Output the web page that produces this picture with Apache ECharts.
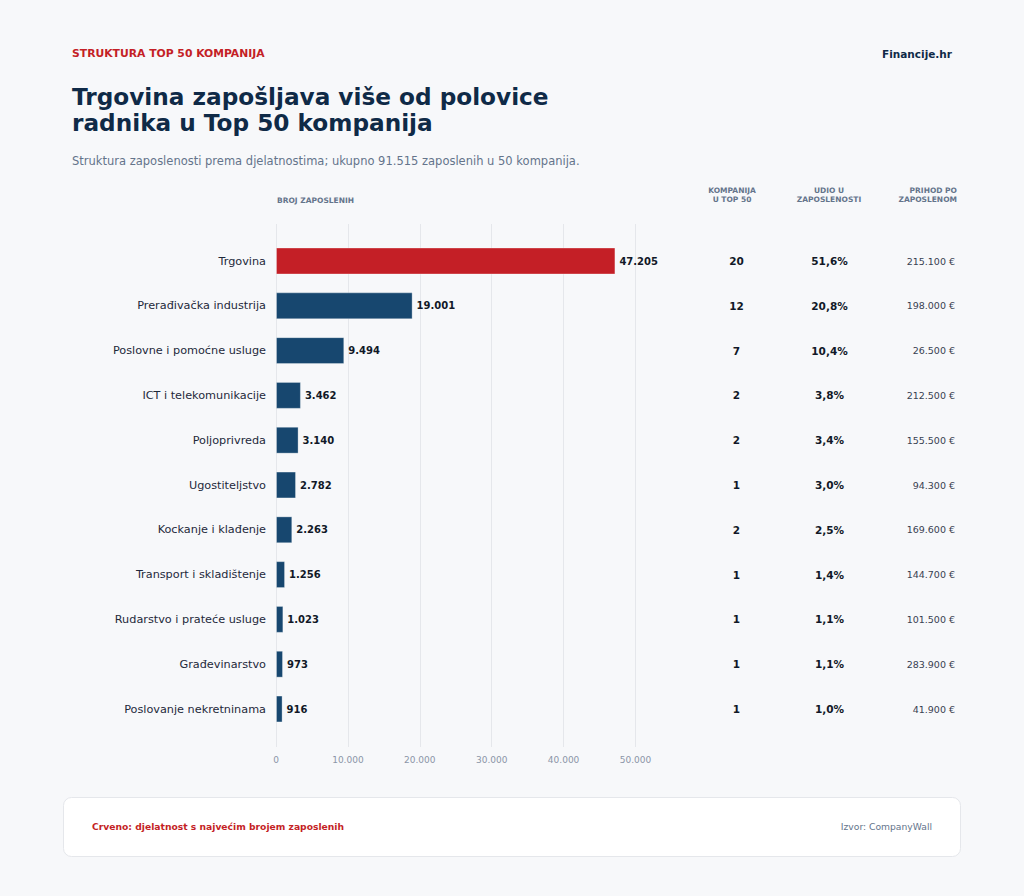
<!DOCTYPE html>
<html lang="hr">
<head>
    <meta charset="UTF-8">
    <title>Struktura Top 50 kompanija</title>
    <style>
        html, body { margin: 0; padding: 0; background: #f7f8fa; }
        #chart { width: 1024px; height: 896px; }
    </style>
</head>
<body>
    <div id="chart"></div>
    <script src="https://cdn.jsdelivr.net/npm/echarts@6/dist/echarts.min.js"></script>
    <script>
        // podaci
        const categories = ['Trgovina', 'Prerađivačka industrija', 'Poslovne i pomoćne usluge', 'ICT i telekomunikacije',
            'Poljoprivreda', 'Ugostiteljstvo', 'Kockanje i klađenje', 'Transport i skladištenje',
            'Rudarstvo i prateće usluge', 'Građevinarstvo', 'Poslovanje nekretninama'];
        const employees = [47205, 19001, 9494, 3462, 3140, 2782, 2263, 1256, 1023, 973, 916];
        const companies = [20, 12, 7, 2, 2, 1, 2, 1, 1, 1, 1];
        const shares = [51.6, 20.8, 10.4, 3.8, 3.4, 3.0, 2.5, 1.4, 1.1, 1.1, 1.0];
        const revenuePerEmployee = [215100, 198000, 26500, 212500, 155500, 94300, 169600, 144700, 101500, 283900, 41900];
        const xTicks = [0, 10000, 20000, 30000, 40000, 50000];

        const FONT = 'DejaVu Sans';
        const RED = '#c41f26';
        const NAVY = '#17476f';

        // hrvatski format brojeva
        function fmt(n) {
            return String(n).replace(/\B(?=(\d{3})+(?!\d))/g, '.');
        }
        function pct(v) {
            return v.toFixed(1).replace('.', ',') + '%';
        }

        const maxIdx = employees.indexOf(Math.max(...employees));

        const chart = echarts.init(document.getElementById('chart'), null, { renderer: 'svg' });

        const plotLeft = 276;
        const plotRight = 1024 - 635.5;

        function tableAxis(values, offset, align, bold, color, fontSize) {
            return {
                type: 'category',
                gridIndex: 0,
                position: 'right',
                offset: offset,
                inverse: true,
                data: values,
                axisLine: { show: false },
                axisTick: { show: false },
                splitLine: { show: false },
                axisLabel: {
                    margin: 0,
                    align: align,
                    fontFamily: FONT,
                    fontSize: fontSize,
                    fontWeight: bold ? 'bold' : 'normal',
                    color: color
                }
            };
        }

        const option = {
            backgroundColor: '#f7f8fa',
            textStyle: { fontFamily: FONT },
            title: [
                {
                    text: 'STRUKTURA TOP 50 KOMPANIJA',
                    left: 72, top: 48, padding: 0,
                    textStyle: { fontFamily: FONT, fontSize: 10.8, fontWeight: 'bold', color: RED }
                },
                {
                    text: 'Trgovina zapošljava više od polovice\nradnika u Top 50 kompanija',
                    left: 72, top: 83, padding: 0,
                    textStyle: { fontFamily: FONT, fontSize: 23.2, fontWeight: 'bold', color: '#0f2a47', lineHeight: 26 }
                },
                {
                    text: 'Struktura zaposlenosti prema djelatnostima; ukupno 91.515 zaposlenih u 50 kompanija.',
                    left: 72, top: 155, padding: 0,
                    textStyle: { fontFamily: FONT, fontSize: 11.5, fontWeight: 'normal', color: '#64748b' }
                },
                {
                    text: 'Financije.hr',
                    right: 72, top: 48.5, padding: 0,
                    textStyle: { fontFamily: FONT, fontSize: 10.5, fontWeight: 'bold', color: '#0f2a47' }
                }
            ],
            graphic: [
                {
                    type: 'text', left: 277, top: 196, silent: true,
                    style: { text: 'BROJ ZAPOSLENIH', fontFamily: FONT, fontSize: 7.5, fontWeight: 'bold', fill: '#64748b' }
                },
                {
                    type: 'text', x: 732, y: 186, silent: true,
                    style: { text: 'KOMPANIJA\nU TOP 50', align: 'center', fontFamily: FONT, fontSize: 7.5, fontWeight: 'bold', fill: '#64748b', lineHeight: 9 }
                },
                {
                    type: 'text', x: 829, y: 186, silent: true,
                    style: { text: 'UDIO U\nZAPOSLENOSTI', align: 'center', fontFamily: FONT, fontSize: 7.5, fontWeight: 'bold', fill: '#64748b', lineHeight: 9 }
                },
                {
                    type: 'text', x: 957, y: 186, silent: true,
                    style: { text: 'PRIHOD PO\nZAPOSLENOM', align: 'right', fontFamily: FONT, fontSize: 7.5, fontWeight: 'bold', fill: '#64748b', lineHeight: 9 }
                },
                {
                    type: 'rect', silent: true, z: -1,
                    shape: { x: 63.5, y: 797.5, width: 897, height: 59, r: 8 },
                    style: { fill: '#ffffff', stroke: '#e5e7eb', lineWidth: 1 }
                },
                {
                    type: 'text', x: 92, y: 826, silent: true,
                    style: { text: 'Crveno: djelatnost s najvećim brojem zaposlenih', verticalAlign: 'middle', fontFamily: FONT, fontSize: 9.2, fontWeight: 'bold', fill: RED }
                },
                {
                    type: 'text', x: 932, y: 826, silent: true,
                    style: { text: 'Izvor: CompanyWall', align: 'right', verticalAlign: 'middle', fontFamily: FONT, fontSize: 9.2, fill: '#64748b' }
                }
            ],
            grid: [
                // trake
                { left: plotLeft, right: plotRight, top: 238.6, bottom: 896 - 731.4 },
                // mreža i oznake osi
                { left: plotLeft, right: plotRight, top: 224, bottom: 896 - 747 }
            ],
            xAxis: [
                {
                    type: 'value', gridIndex: 0, min: 0, max: 50000, interval: 10000,
                    show: false
                },
                {
                    type: 'value', gridIndex: 1, min: xTicks[0], max: xTicks[xTicks.length - 1], interval: 10000,
                    axisLine: { show: false },
                    axisTick: { show: false },
                    splitLine: { lineStyle: { color: '#e5e7eb', width: 1 } },
                    axisLabel: {
                        margin: 8,
                        fontFamily: FONT,
                        fontSize: 9,
                        color: '#8b95a7',
                        formatter: v => fmt(v)
                    }
                }
            ],
            yAxis: [
                {
                    type: 'category', gridIndex: 0, inverse: true, data: categories,
                    axisLine: { show: false },
                    axisTick: { show: false },
                    axisLabel: { margin: 10, fontFamily: FONT, fontSize: 11.25, color: '#1e293b' }
                },
                tableAxis(companies.map(String), 101, 'center', true, '#111827', 10.5),
                tableAxis(shares.map(pct), 194, 'center', true, '#111827', 10.5),
                tableAxis(revenuePerEmployee.map(v => fmt(v) + ' €'), 319.5, 'right', false, '#374151', 9.5),
                {
                    type: 'value', gridIndex: 1, show: false, min: 0, max: 1
                }
            ],
            series: [
                {
                    type: 'bar',
                    xAxisIndex: 0,
                    yAxisIndex: 0,
                    barWidth: '60%',
                    data: employees.map((v, i) => ({
                        value: v,
                        itemStyle: { color: i === maxIdx ? RED : NAVY }
                    })),
                    itemStyle: { borderColor: 'rgba(255,255,255,0.3)', borderWidth: 1 },
                    label: {
                        show: true,
                        position: 'right',
                        distance: 4,
                        fontFamily: FONT,
                        fontSize: 10,
                        fontWeight: 'bold',
                        color: '#111827',
                        formatter: p => fmt(p.value)
                    },
                    emphasis: { disabled: true },
                    animation: false
                }
            ],
            animation: false
        };

        chart.setOption(option);
    </script>
</body>
</html>
